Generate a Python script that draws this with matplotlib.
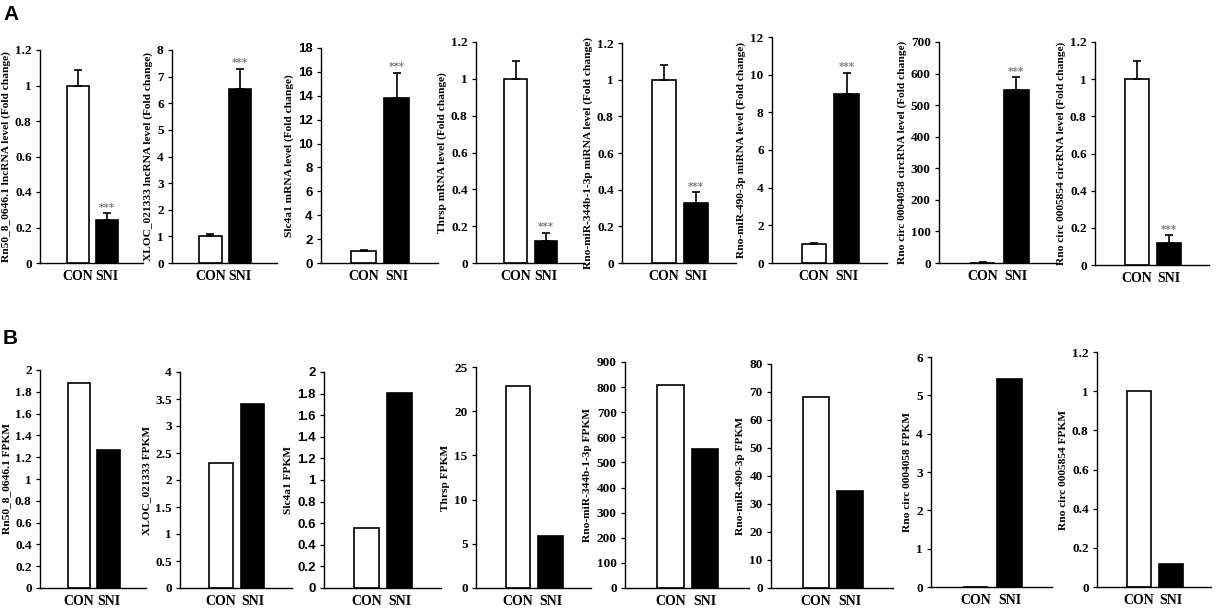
import numpy as np
import matplotlib
matplotlib.use("Agg")
import matplotlib.pyplot as plt

groups = ["CON", "SNI"]

# panel A: qPCR fold change (mean, upper error)
a_labels = [
    "Rn50_8_0646.1 lncRNA level (Fold change)",
    "XLOC_021333 lncRNA level (Fold change)",
    "Slc4a1 mRNA level (Fold change)",
    "Thrsp mRNA level (Fold change)",
    "Rno-miR-344b-1-3p miRNA level (Fold change)",
    "Rno-miR-490-3p miRNA level (Fold change)",
    "Rno circ 0004058 circRNA level (Fold change)",
    "Rno circ 0005854 circRNA level (Fold change)",
]
a_con = [1.0, 1.0, 1.0, 1.0, 1.0, 1.0, 1.0, 1.0]
a_sni = [0.245, 6.55, 13.8, 0.12, 0.33, 8.95, 548, 0.12]
a_con_err = [0.09, 0.08, 0.1, 0.095, 0.08, 0.08, 1.0, 0.1]
a_sni_err = [0.035, 0.75, 2.1, 0.045, 0.055, 1.15, 40, 0.04]
a_ymax = [1.2, 8, 18, 1.2, 1.2, 12, 700, 1.2]
a_step = [0.2, 1, 2, 0.2, 0.2, 2, 100, 0.2]

# panel B: RNA-seq FPKM
b_labels = [
    "Rn50_8_0646.1 FPKM",
    "XLOC_021333 FPKM",
    "Slc4a1 FPKM",
    "Thrsp FPKM",
    "Rno-miR-344b-1-3p FPKM",
    "Rno-miR-490-3p FPKM",
    "Rno circ 0004058 FPKM",
    "Rno circ 0005854 FPKM",
]
b_con = [1.88, 2.32, 0.56, 22.8, 808, 68.3, 0.0, 1.0]
b_sni = [1.27, 3.4, 1.81, 5.9, 553, 34.8, 5.42, 0.12]
b_ymax = [2, 4, 2, 25, 900, 80, 6, 1.2]
b_step = [0.2, 0.5, 0.2, 5, 100, 10, 1, 0.2]

# axes boxes in pixels: left, width, y of zero line, y of top tick
a_boxes = [(40, 103, 263, 50), (172, 105, 263, 50), (321, 117, 263, 48),
           (476, 108, 263, 42), (622, 114, 263, 43), (772, 115, 263, 37),
           (939, 119, 263, 42), (1095, 114, 265, 42)]
b_boxes = [(40, 106, 588, 370), (180, 112, 588, 372), (324, 117, 588, 372),
           (476, 115, 588, 367), (625, 124, 588, 362), (771, 122, 588, 364),
           (931, 121, 587, 357), (1097, 114, 587, 352)]
sans_ticks = [2]  # Slc4a1 panels use a sans serif tick font

W, H = 1217, 609
serif = "Liberation Serif"
sans = "Liberation Sans"

fig = plt.figure(figsize=(W / 100, H / 100), dpi=100)


def make_axes(box):
    left, width, y0, ytop = box
    return fig.add_axes([left / W, 1 - y0 / H, width / W, (y0 - ytop) / H])


def style_axes(ax, ymax, step, label, tick_font):
    ax.set_xlim(-1.3, 2.25)
    ax.set_ylim(0, ymax)
    ticks = np.arange(0, ymax + step / 2, step)
    ax.set_yticks(ticks)
    ax.set_yticklabels(["%g" % round(t, 2) for t in ticks],
                       fontfamily=tick_font, fontweight="bold", fontsize=9.5)
    ax.set_xticks([0, 1])
    ax.set_xticklabels(groups, fontfamily=serif, fontweight="bold", fontsize=10)
    ax.tick_params(axis="x", length=0, pad=5)
    ax.tick_params(axis="y", length=3, width=0.9, pad=3)
    for s in ["top", "right"]:
        ax.spines[s].set_visible(False)
    for s in ["left", "bottom"]:
        ax.spines[s].set_linewidth(1.0)
    ax.set_ylabel(label, fontfamily=serif, fontweight="bold", fontsize=8.2, labelpad=3)


for i in range(8):
    ax = make_axes(a_boxes[i])
    vals = [a_con[i], a_sni[i]]
    errs = [a_con_err[i], a_sni_err[i]]
    ax.bar([0, 1], vals, width=0.75, color=["white", "black"],
           edgecolor="black", linewidth=1.2, zorder=2)
    ax.errorbar([0, 1], vals, yerr=[[0, 0], errs], fmt="none", ecolor="black",
                elinewidth=1.2, capsize=3, capthick=1.2, zorder=3)
    ax.annotate("***", (1, a_sni[i] + a_sni_err[i]), xytext=(0, 0.5),
                textcoords="offset points", ha="center", va="bottom",
                color="#808080", fontsize=7.5, fontweight="bold")
    tf = sans if i in sans_ticks else serif
    style_axes(ax, a_ymax[i], a_step[i], a_labels[i], tf)

for i in range(8):
    ax = make_axes(b_boxes[i])
    ax.bar([0, 1], [b_con[i], b_sni[i]], width=0.75, color=["white", "black"],
           edgecolor="black", linewidth=1.2, zorder=2)
    tf = sans if i in sans_ticks else serif
    style_axes(ax, b_ymax[i], b_step[i], b_labels[i], tf)

fig.text(3 / W, 1 - 14 / H, "A", fontfamily=sans, fontweight="bold", fontsize=15, va="center")
fig.text(3 / W, 1 - 338 / H, "B", fontfamily=sans, fontweight="bold", fontsize=15, va="center")

fig.savefig("out.png", dpi=100)
